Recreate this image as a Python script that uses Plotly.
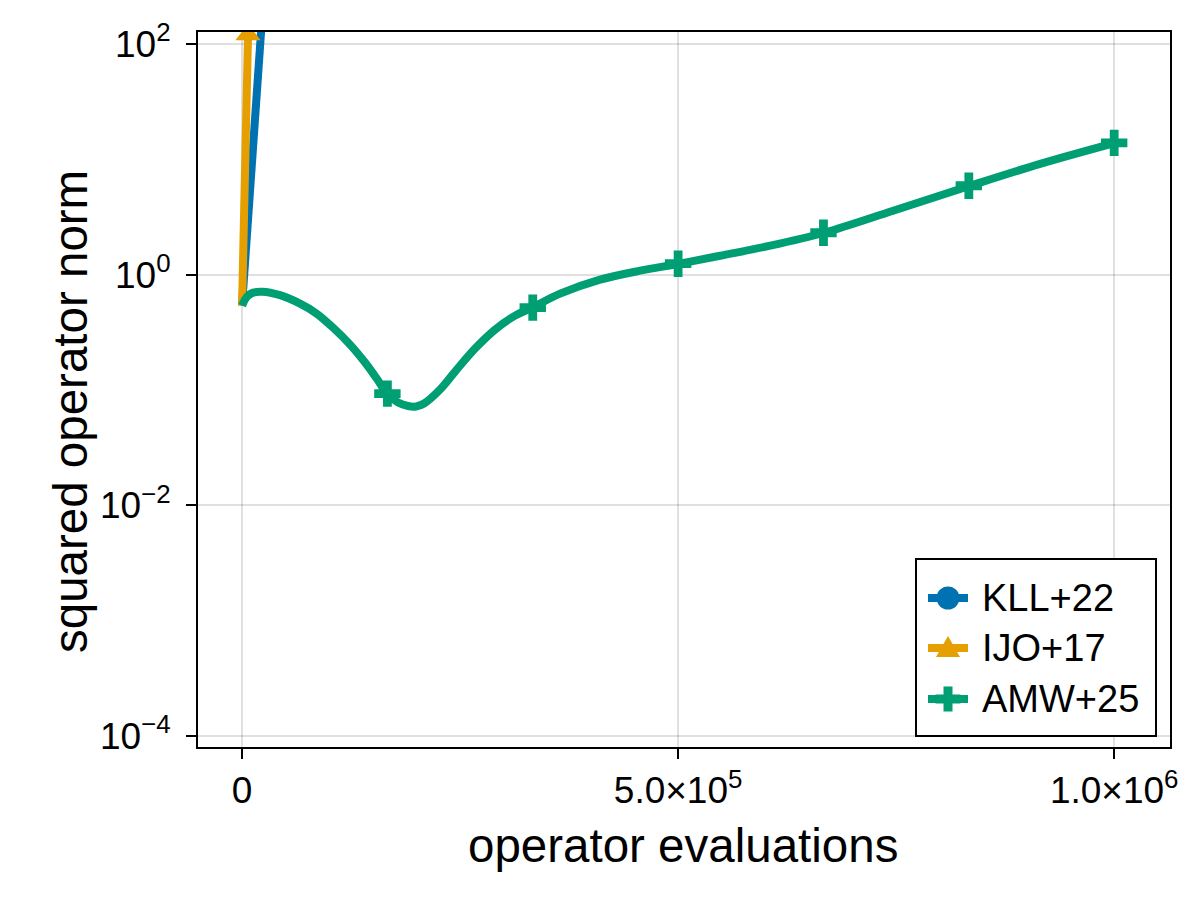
import plotly.graph_objects as go

# ---------------- data ----------------
series_names = ["KLL+22", "IJO+17", "AMW+25"]

# AMW+25: dense curve
amw_x = [0, 5734, 12615, 22936, 43578, 66514, 84862, 104358, 123853, 141055,
         154817, 166284, 178899, 190367, 199541, 208716, 227064, 244266, 267202,
         290138, 313073, 332569, 364679, 410551, 456422, 501147, 548165, 605505,
         667431, 746560, 834862, 915138, 1001147]
amw_y = [0.539, 0.645, 0.699, 0.712, 0.6645, 0.561, 0.464, 0.3477, 0.2477, 0.1730,
         0.1245, 0.0932, 0.0779, 0.0727, 0.0720, 0.0764, 0.1010, 0.1446, 0.2287,
         0.3340, 0.4416, 0.5179, 0.6846, 0.905, 1.083, 1.245, 1.460, 1.783,
         2.31, 3.58, 5.90, 9.14, 13.9]
# AMW+25 markers
amw_mx = [166667, 333333, 500000, 666667, 833333, 1000000]
amw_my = [0.0930, 0.518, 1.245, 2.31, 5.90, 13.9]

# KLL+22
kll_x = [0, 57600]
kll_y = [0.539, 1e6]

# IJO+17
ijo_x = [0, 6900, 12500]
ijo_y = [0.539, 120, 1e4]
ijo_mx = [6900]
ijo_my = [120]

x_tickvals = [0, 500000, 1000000]
x_ticktext = ["0", "5.0×10<sup>5</sup>", "1.0×10<sup>6</sup>"]
y_tickvals = [1e-4, 1e-2, 1, 1e2]
y_ticktext = ["10<sup>−4</sup>", "10<sup>−2</sup>", "10<sup>0</sup>", "10<sup>2</sup>"]

BLUE = "#0072B2"
ORANGE = "#E69F00"
GREEN = "#009E73"
colors = [BLUE, ORANGE, GREEN]
FONT = "Liberation Sans"
LW = 8
MS = 22

fig = go.Figure()

# KLL+22
fig.add_trace(go.Scatter(x=kll_x, y=kll_y, mode="lines", name=series_names[0],
                         line=dict(color=BLUE, width=LW), showlegend=False))
# IJO+17
fig.add_trace(go.Scatter(x=ijo_x, y=ijo_y, mode="lines", name=series_names[1],
                         line=dict(color=ORANGE, width=LW), showlegend=False))
fig.add_trace(go.Scatter(x=ijo_mx, y=ijo_my, mode="markers", name=series_names[1],
                         marker=dict(symbol="triangle-up", color=ORANGE, size=MS),
                         showlegend=False))
# AMW+25
fig.add_trace(go.Scatter(x=amw_x, y=amw_y, mode="lines", line_shape="spline",
                         name=series_names[2],
                         line=dict(color=GREEN, width=LW), showlegend=False))
fig.add_trace(go.Scatter(x=amw_mx, y=amw_my, mode="markers", name=series_names[2],
                         marker=dict(symbol="cross", color=GREEN, size=MS),
                         showlegend=False))

L, R, T, B = 198, 30, 32, 153
W, H = 1200, 900
pw, ph = W - L - R, H - T - B


def px2x(px):
    return (px - L) / pw


def py2y(py):
    return (H - B - py) / ph


# ---------------- custom legend (layout decoration) ----------------
shapes = [dict(type="rect", xref="paper", yref="paper", layer="above",
               x0=px2x(916), x1=px2x(1156), y0=py2y(736), y1=py2y(559),
               line=dict(color="black", width=2), fillcolor="white")]
annotations = []
row_y = [598, 648, 699]
sx0, sx1, sxc, tx = 928, 968, 948, 980
for i, (name, col) in enumerate(zip(series_names, colors)):
    ry = row_y[i]
    shapes.append(dict(type="line", xref="paper", yref="paper", layer="above",
                       x0=px2x(sx0), x1=px2x(sx1), y0=py2y(ry), y1=py2y(ry),
                       line=dict(color=col, width=LW)))
    if i == 0:
        r = 11.5
        shapes.append(dict(type="circle", xref="paper", yref="paper", layer="above",
                           x0=px2x(sxc - r), x1=px2x(sxc + r),
                           y0=py2y(ry + r), y1=py2y(ry - r),
                           fillcolor=col, line=dict(color=col, width=0)))
    elif i == 1:
        pts = [(sxc - 12, ry + 9), (sxc + 12, ry + 9), (sxc, ry - 12)]
        path = "M " + " L ".join(f"{px2x(a):.5f},{py2y(b):.5f}" for a, b in pts) + " Z"
        shapes.append(dict(type="path", xref="paper", yref="paper", layer="above",
                           path=path, fillcolor=col, line=dict(color=col, width=0)))
    else:
        a, w = 12.5, 4.5
        pts = [(sxc - w, ry - a), (sxc + w, ry - a), (sxc + w, ry - w), (sxc + a, ry - w),
               (sxc + a, ry + w), (sxc + w, ry + w), (sxc + w, ry + a), (sxc - w, ry + a),
               (sxc - w, ry + w), (sxc - a, ry + w), (sxc - a, ry - w), (sxc - w, ry - w)]
        path = "M " + " L ".join(f"{px2x(p):.5f},{py2y(q):.5f}" for p, q in pts) + " Z"
        shapes.append(dict(type="path", xref="paper", yref="paper", layer="above",
                           path=path, fillcolor=col, line=dict(color=col, width=0)))
    annotations.append(dict(text=name, xref="paper", yref="paper",
                            x=px2x(tx), y=py2y(ry), xanchor="left", yanchor="middle",
                            showarrow=False,
                            font=dict(family=FONT, size=38, color="black")))

annotations += [
    dict(text="operator evaluations", xref="paper", yref="paper",
         x=px2x(683), y=py2y(845), xanchor="center", yanchor="middle",
         showarrow=False, font=dict(family=FONT, size=47.5, color="black")),
    dict(text="squared operator norm", xref="paper", yref="paper",
         x=px2x(70), y=py2y(412), xanchor="center", yanchor="middle",
         textangle=-90, showarrow=False,
         font=dict(family=FONT, size=47.5, color="black")),
]

axis_common = dict(
    showline=True, linecolor="black", linewidth=2, mirror=True,
    ticks="outside", ticklen=10, tickwidth=2, tickcolor="black",
    showgrid=True, gridcolor="rgba(0,0,0,0.12)", gridwidth=2,
    zeroline=False, tickfont=dict(family=FONT, size=37, color="black"),
)

fig.update_layout(
    width=W, height=H,
    margin=dict(l=L, r=R, t=T, b=B, autoexpand=False),
    paper_bgcolor="white", plot_bgcolor="white",
    font=dict(family=FONT, color="black"),
    showlegend=False,
    xaxis=dict(range=[-50500, 1064000], tickvals=x_tickvals, ticktext=x_ticktext,
               ticklabelstandoff=0, **axis_common),
    yaxis=dict(type="log", range=[-4.095, 2.104], tickvals=y_tickvals,
               ticktext=y_ticktext, ticklabelstandoff=8, **axis_common),
    shapes=shapes,
    annotations=annotations,
)

fig.write_html("out.html", config={"displayModeBar": False},
               post_script="document.body.style.margin='0';document.body.style.overflow='hidden';")
